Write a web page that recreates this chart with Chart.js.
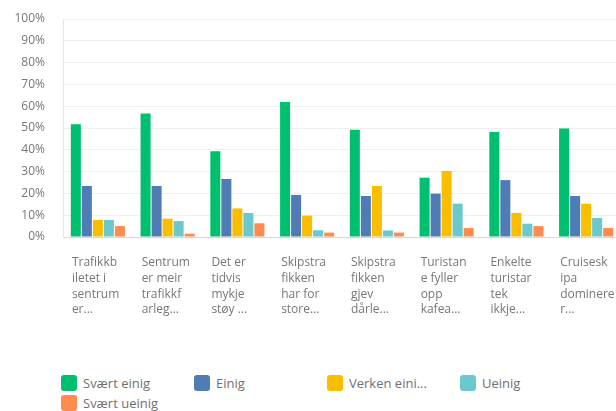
<!DOCTYPE html>
<html>
<head>
<meta charset="utf-8">
<script src="https://cdn.jsdelivr.net/npm/chart.js@4"></script>
<style>
  html, body { margin: 0; padding: 0; background: #fff; overflow: hidden; }
  body { width: 616px; height: 411px; position: relative; font-family: "Open Sans", sans-serif; }
  #wrap { position: absolute; left: 0; top: 0; width: 622px; height: 331px; }
  #legend {
    position: absolute; left: 61px; top: 375px;
    display: grid; grid-template-columns: repeat(4, 133px); row-gap: 4px;
    font-size: 13px; color: #707070;
  }
  .item { display: flex; align-items: center; height: 16px; white-space: nowrap; }
  .box { width: 16px; height: 16px; border-radius: 3px; margin-right: 6px; flex: none; }
</style>
</head>
<body>
<div id="wrap"><canvas id="chart"></canvas></div>
<div id="legend"></div>
<script>
// Kategoriar (avkorta slik som i originalet)
const categories = [
  ["Trafikkb", "iletet i", "sentrum", "er..."],
  ["Sentrum", "er meir", "trafikkf", "arleg..."],
  ["Det er", "tidvis", "mykje", "støy ..."],
  ["Skipstra", "fikken", "har for", "store..."],
  ["Skipstra", "fikken", "gjev", "dårle..."],
  ["Turistan", "e fyller", "opp", "kafea..."],
  ["Enkelte", "turistar", "tek", "ikkje..."],
  ["Cruisesk", "ipa", "dominere", "r..."]
];

const seriesNames = ["Svært einig", "Einig", "Verken einig eller ueinig", "Ueinig", "Svært ueinig"];
const seriesColors = ["#00BF6F", "#507CB6", "#F9BE00", "#6BC8CD", "#FF8B4F"];

// Prosent per kategori
const sværtEinig  = [51.7, 56.6, 39.3, 61.9, 49.2, 27.2, 48.2, 49.8];
const einig       = [23.4, 23.4, 26.6, 19.3, 18.8, 19.9, 26.1, 18.8];
const verkenEinig = [7.8, 8.4, 13.1, 9.8, 23.4, 30.3, 11.0, 15.3];
const ueinig      = [7.8, 7.3, 11.0, 3.1, 3.0, 15.3, 6.1, 8.7];
const sværtUeinig = [5.0, 1.5, 6.3, 2.0, 2.0, 4.1, 5.0, 4.1];

const yTicks = [0, 10, 20, 30, 40, 50, 60, 70, 80, 90, 100];

const seriesValues = [sværtEinig, einig, verkenEinig, ueinig, sværtUeinig];

const datasets = seriesNames.map((name, i) => ({
  label: name,
  data: seriesValues[i],
  backgroundColor: seriesColors[i],
  borderWidth: 0,
  barPercentage: 0.91,
  categoryPercentage: 0.79
}));

new Chart(document.getElementById("chart"), {
  type: "bar",
  data: { labels: categories, datasets },
  options: {
    responsive: true,
    maintainAspectRatio: false,
    animation: false,
    layout: { padding: { top: 19, right: 1, bottom: 14, left: 0 } },
    plugins: {
      legend: { display: false },
      tooltip: { enabled: false }
    },
    scales: {
      x: {
        afterFit: scale => {
          scale.height = 80;
          scale.paddingLeft = 0;
          scale.paddingRight = 0;
        },
        grid: { display: false, drawTicks: false },
        border: { display: true, color: "#d8d8d8" },
        ticks: {
          autoSkip: false,
          maxRotation: 0,
          align: "start",
          labelOffset: -26,
          padding: 18,
          color: "#777",
          font: { family: "Open Sans", size: 12, lineHeight: 15.7 / 12 }
        }
      },
      y: {
        min: 0,
        max: 100,
        afterFit: scale => {
          scale.width = 63;
          scale.paddingTop = 0;
          scale.paddingBottom = 0;
        },
        afterBuildTicks: scale => { scale.ticks = yTicks.map(v => ({ value: v })); },
        grid: { color: "#efefef", drawTicks: false },
        border: { display: true, color: "#e6e6e6" },
        ticks: {
          padding: 18,
          color: "#777",
          font: { family: "Open Sans", size: 12 },
          callback: v => v + "%"
        }
      }
    }
  }
});

// Legend med faste kolonner
const legendEl = document.getElementById("legend");
seriesNames.forEach((name, i) => {
  const text = name.length > 12 ? name.slice(0, 11) + "..." : name;
  const item = document.createElement("div");
  item.className = "item";
  item.innerHTML = `<span class="box" style="background:${seriesColors[i]}"></span><span>${text}</span>`;
  legendEl.appendChild(item);
});
</script>
</body>
</html>
